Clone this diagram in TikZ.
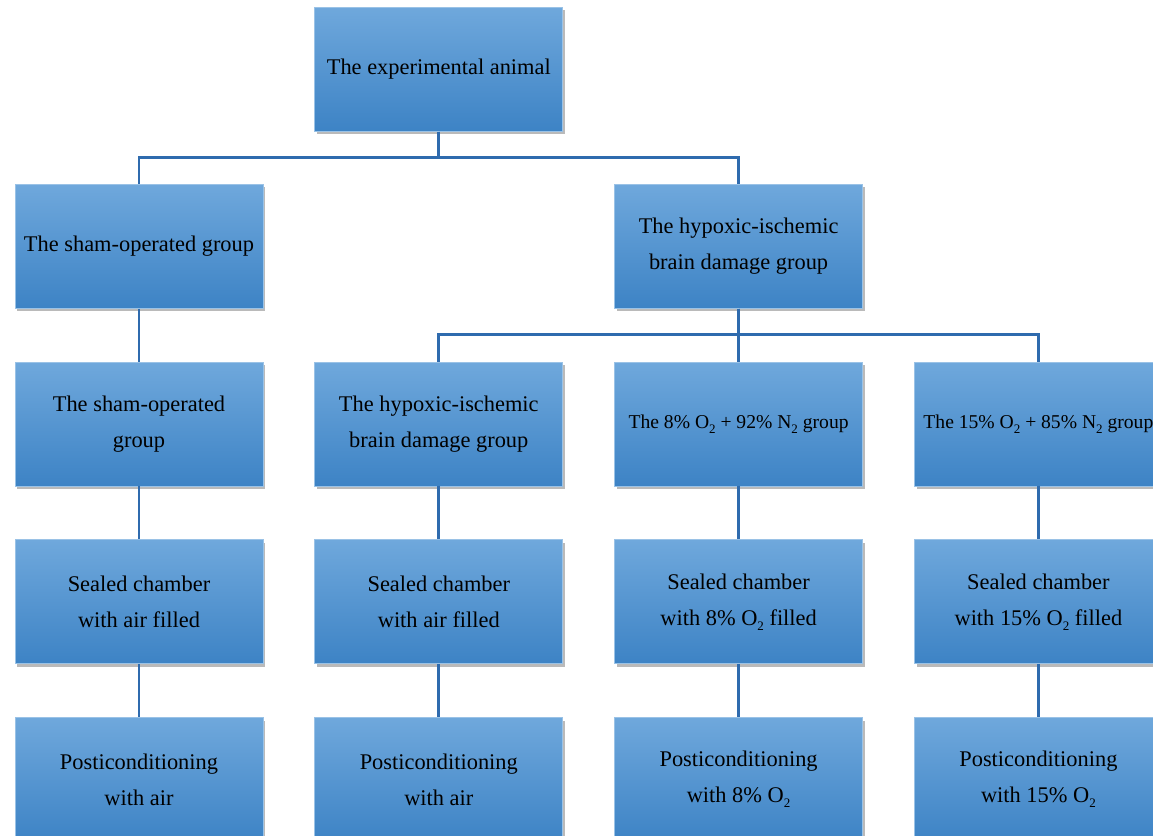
\documentclass[tikz,border=0pt]{standalone}
\usepackage{fontspec}
\setmainfont{Liberation Serif}
\usepackage{tikz}
\usetikzlibrary{positioning, shadows}
\definecolor{boxtop}{HTML}{6FA8DC}
\definecolor{boxbottom}{HTML}{3D83C5}
\definecolor{linkblue}{HTML}{2F6BAE}
\tikzstyle{groupbox} = [rectangle, minimum width=124pt, minimum height=62pt, inner xsep=0pt, inner ysep=3pt, align=center, font=\fontsize{11.2}{18}\selectfont, top color=boxtop, bottom color=boxbottom, draw=boxtop!70!white, line width=0.4pt, drop shadow={shadow xshift=1.2pt, shadow yshift=-1.5pt, opacity=0.45, fill=black!60}]
\tikzstyle{gasbox} = [groupbox, font=\fontsize{9.8}{18}\selectfont]
\tikzstyle{link} = [line width=1.4pt, draw=linkblue]
\newcommand{\subtwo}{\raisebox{-0.5ex}{\fontsize{6.5}{7}\selectfont 2}}

\begin{document}
\begin{tikzpicture}
    \useasboundingbox (0,0) rectangle (576.5pt,-418pt);
    \clip (0,0) rectangle (576.5pt,-418pt);

    % third row, the four groups
    \node (sham2) [groupbox] at (69.5pt,-212pt) {The sham-operated\\group};
    \node (hie2) [groupbox, right=25.5pt of sham2] {The hypoxic-ischemic\\brain damage group};
    \node (o8) [gasbox, right=25.5pt of hie2] {The 8\% O\subtwo{} + 92\% N\subtwo{} group};
    \node (o15) [gasbox, right=25.5pt of o8] {The 15\% O\subtwo{} + 85\% N\subtwo{} group};

    % upper rows
    \node (sham1) [groupbox, above=26.5pt of sham2] {The sham-operated group};
    \node (hie1) [groupbox, above=26.5pt of o8] {The hypoxic-ischemic\\brain damage group};
    \node (exp) [groupbox, above=115pt of hie2] {The experimental animal};

    % chambers
    \node (ch1) [groupbox, below=26.5pt of sham2] {Sealed chamber\\with air filled};
    \node (ch2) [groupbox, below=26.5pt of hie2] {Sealed chamber\\with air filled};
    \node (ch3) [groupbox, below=26.5pt of o8] {Sealed chamber\\with 8\% O\subtwo{} filled};
    \node (ch4) [groupbox, below=26.5pt of o15] {Sealed chamber\\with 15\% O\subtwo{} filled};

    % posticonditioning
    \node (pc1) [groupbox, below=26.5pt of ch1] {Posticonditioning\\with air};
    \node (pc2) [groupbox, below=26.5pt of ch2] {Posticonditioning\\with air};
    \node (pc3) [groupbox, below=26.5pt of ch3] {Posticonditioning\\with 8\% O\subtwo};
    \node (pc4) [groupbox, below=26.5pt of ch4] {Posticonditioning\\with 15\% O\subtwo};

    % tree connectors
    \draw [link] (exp.south) -- ++(0,-13pt) -| (sham1.north);
    \draw [link] (exp.south) -- ++(0,-13pt) -| (hie1.north);
    \foreach \grp in {hie2, o8, o15}
        \draw [link] (hie1.south) -- ++(0,-13pt) -| (\grp.north);
    \draw [link] (sham1) -- (sham2);
    \draw [link] (sham2) -- (ch1);
    \draw [link] (hie2) -- (ch2);
    \draw [link] (o8) -- (ch3);
    \draw [link] (o15) -- (ch4);
    \draw [link] (ch1) -- (pc1);
    \draw [link] (ch2) -- (pc2);
    \draw [link] (ch3) -- (pc3);
    \draw [link] (ch4) -- (pc4);
\end{tikzpicture}
\end{document}
